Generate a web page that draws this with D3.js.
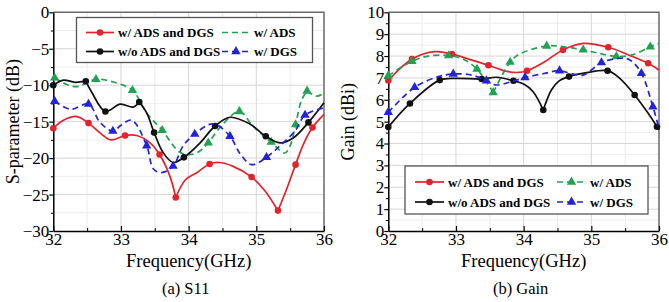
<!DOCTYPE html>
<html>
<head>
<meta charset="utf-8">
<script src="https://cdn.jsdelivr.net/npm/d3@7"></script>
<style>
html,body{margin:0;padding:0;background:#fff;}
svg{display:block;}
text{font-family:"Liberation Serif","Times New Roman",serif;}
</style>
</head>
<body>
<svg id="c" width="669" height="302"></svg>
<script>
// ---------- data ----------
const freqDomain = [32, 36];
const freqTicks = [32, 33, 34, 35, 36];
const s11Ticks = [0, -5, -10, -15, -20, -25, -30];
const gainTicks = [0,1,2,3,4,5,6,7,8,9,10];
const seriesNames = ["w/ ADS and DGS", "w/ ADS", "w/o ADS and DGS", "w/ DGS"];

// S11 (dB)
const s11RedF = [32.0,32.15,32.35,32.52,32.7,32.85,33.06,33.23,33.43,33.57,33.72,33.81,33.95,34.12,34.31,34.45,34.65,34.93,35.12,35.32,35.45,35.58,35.7,35.83,36.0];
const s11RedV = [-15.9,-14.8,-14.3,-15.2,-16.6,-17.5,-16.9,-16.9,-17.9,-19.5,-22.4,-25.4,-23.0,-22.0,-20.8,-20.6,-21.1,-22.6,-24.4,-27.2,-24.2,-20.9,-18.0,-15.8,-14.0];
const s11RedM = [32.0,32.52,33.06,33.57,33.81,34.31,34.93,35.32,35.58,35.83];
const s11RedCusp = [33.81,35.32];

const s11BlackF = [32.0,32.15,32.32,32.48,32.57,32.77,32.99,33.18,33.27,33.38,33.49,33.62,33.77,33.93,34.17,34.39,34.61,34.9,35.14,35.35,35.55,35.77,36.0];
const s11BlackV = [-10.0,-9.3,-9.6,-9.45,-11.0,-13.6,-12.6,-13.0,-12.3,-13.8,-16.5,-19.2,-20.6,-19.9,-17.9,-15.6,-14.4,-15.3,-17.0,-17.9,-17.2,-15.1,-12.4];
const s11BlackM = [32.0,32.48,32.77,33.27,33.49,33.93,34.39,35.14,35.77];
const s11BlackCusp = [32.48,33.27];

const s11GreenF = [32.02,32.2,32.35,32.63,32.9,33.17,33.38,33.61,33.87,34.04,34.17,34.29,34.5,34.75,34.95,35.22,35.42,35.5,35.58,35.67,35.75,35.89,36.0];
const s11GreenV = [-9.0,-9.9,-10.2,-9.2,-9.6,-10.7,-13.8,-16.2,-19.2,-19.5,-19.0,-17.9,-15.4,-13.6,-15.6,-17.8,-19.3,-18.3,-15.4,-12.0,-10.8,-11.5,-11.1];
const s11GreenM = [32.02,32.63,33.17,33.61,34.29,34.75,35.22,35.58,35.75];
const s11GreenCusp = [35.75];

const s11BlueF = [32.02,32.25,32.52,32.69,32.88,33.0,33.16,33.38,33.48,33.6,33.77,33.92,34.09,34.36,34.61,34.76,34.93,35.15,35.35,35.57,35.72,36.0];
const s11BlueV = [-12.2,-13.3,-12.6,-15.1,-16.3,-15.5,-14.8,-18.3,-21.5,-22.0,-21.1,-18.3,-16.7,-15.3,-17.0,-19.4,-20.9,-19.9,-18.3,-16.3,-14.1,-13.1];
const s11BlueM = [32.02,32.52,32.88,33.38,33.77,34.09,34.61,35.15,35.72];
const s11BlueCusp = [];

// Gain (dBi)
const gainRedF = [32.0,32.35,32.69,32.94,33.2,33.48,33.75,33.92,34.05,34.3,34.58,34.88,35.25,35.55,35.84,36.0];
const gainRedV = [6.88,7.86,8.2,8.09,7.85,7.58,7.3,7.25,7.33,7.72,8.28,8.58,8.4,8.05,7.67,7.36];
const gainRedM = [32.0,32.35,32.94,33.48,34.05,34.58,35.25,35.84];
const gainRedCusp = [];

const gainBlackF = [32.0,32.32,32.76,33.01,33.38,33.6,33.85,34.0,34.14,34.29,34.41,34.52,34.67,34.93,35.24,35.42,35.64,35.84,35.97,36.0];
const gainBlackV = [4.75,5.83,6.9,6.98,6.95,7.03,6.87,6.72,6.37,5.53,6.45,6.85,7.06,7.24,7.33,6.98,6.22,5.38,4.77,4.62];
const gainBlackM = [32.0,32.32,32.76,33.38,33.85,34.29,34.67,35.24,35.64,35.97];
const gainBlackCusp = [34.29];

const gainGreenF = [32.0,32.35,32.59,32.89,33.11,33.31,33.55,33.8,33.94,34.34,34.6,34.88,35.15,35.37,35.6,35.87,36.0];
const gainGreenV = [7.1,7.76,8.0,8.02,7.85,7.4,6.33,7.72,8.09,8.46,8.42,8.28,8.1,7.98,8.05,8.42,8.58];
const gainGreenM = [32.0,32.35,32.89,33.31,33.55,33.8,34.34,34.88,35.37,35.87];
const gainGreenCusp = [33.55];

const gainBlueF = [32.0,32.39,32.74,32.96,33.23,33.45,33.58,33.82,34.02,34.3,34.53,34.7,34.88,35.15,35.42,35.57,35.74,35.91,36.0];
const gainBlueV = [5.43,6.57,7.06,7.18,7.13,6.87,6.68,6.83,7.02,7.2,7.33,7.2,7.13,7.7,7.9,7.82,7.21,5.68,4.7];
const gainBlueM = [32.0,32.39,32.96,33.45,34.02,34.53,35.15,35.74,35.91];
const gainBlueCusp = [];

// ---------- styles ----------
const COL = {red:"#e3222b", green:"#21a253", black:"#111111", blue:"#2222d8"};
const svg = d3.select("#c");

function makeSeries(F, V, M, C, color, dashed, marker) {
  return {pts: F.map((f,i)=>[f,V[i]]), M, C, color, dashed, marker};
}

function drawPanel(cfg) {
  const {x0,x1,y0,y1,yDomain,yTicks,yMinorStep,series,yTitle,caption,legend} = cfg;
  const x = d3.scaleLinear().domain(freqDomain).range([x0,x1]);
  const y = d3.scaleLinear().domain(yDomain).range([y1,y0]);
  const g = svg.append("g");

  // minor grid
  const xMinor = d3.range(freqDomain[0]+0.5, freqDomain[1], 1);
  const yMinor = d3.range(yDomain[0]+yMinorStep, yDomain[1], yMinorStep*2);
  g.selectAll(".gxm").data(xMinor).join("line")
    .attr("x1",d=>x(d)).attr("x2",d=>x(d)).attr("y1",y0).attr("y2",y1)
    .attr("stroke","#ededed").attr("stroke-width",1);
  g.selectAll(".gym").data(yMinor).join("line")
    .attr("y1",d=>y(d)).attr("y2",d=>y(d)).attr("x1",x0).attr("x2",x1)
    .attr("stroke","#ededed").attr("stroke-width",1);
  // major grid
  g.selectAll(".gx").data(freqTicks.slice(1,-1)).join("line")
    .attr("x1",d=>x(d)).attr("x2",d=>x(d)).attr("y1",y0).attr("y2",y1)
    .attr("stroke","#d6d6d6").attr("stroke-width",1);
  g.selectAll(".gy").data(yTicks.filter(t=>t!==yDomain[0]&&t!==yDomain[1])).join("line")
    .attr("y1",d=>y(d)).attr("y2",d=>y(d)).attr("x1",x0).attr("x2",x1)
    .attr("stroke","#d6d6d6").attr("stroke-width",1);

  // frame top/right
  g.append("path").attr("d",`M${x0},${y0}H${x1}V${y1}`).attr("fill","none")
    .attr("stroke","#6a6a6a").attr("stroke-width",1.5);

  // axes
  const fmt = d => (d<0 ? "\u2212"+Math.abs(d) : String(d));
  const xAxis = d3.axisBottom(x).tickValues(freqTicks).tickSizeInner(-5).tickSizeOuter(0).tickPadding(2).tickFormat(fmt);
  const xa = g.append("g").attr("transform",`translate(0,${y1})`).call(xAxis);
  const yAxis = d3.axisLeft(y).tickValues(yTicks).tickSizeInner(4).tickSizeOuter(0).tickPadding(0).tickFormat(fmt);
  const ya = g.append("g").attr("transform",`translate(${x0},0)`).call(yAxis);
  [xa,ya].forEach(a=>{
    a.select(".domain").attr("stroke","#000").attr("stroke-width",1.5);
    a.selectAll(".tick line").attr("stroke","#000").attr("stroke-width",1.2);
    a.selectAll(".tick text").attr("font-family","Liberation Serif").attr("font-size",17).attr("fill","#000");
  });
  // minor ticks
  const xmt = d3.axisBottom(x).tickValues(xMinor).tickSizeInner(-3).tickSizeOuter(0).tickFormat("");
  g.append("g").attr("transform",`translate(0,${y1})`).call(xmt)
    .call(a=>{a.select(".domain").remove(); a.selectAll("line").attr("stroke","#000");});
  const ymt = d3.axisLeft(y).tickValues(yMinor).tickSizeInner(2.5).tickSizeOuter(0).tickFormat("");
  g.append("g").attr("transform",`translate(${x0},0)`).call(ymt)
    .call(a=>{a.select(".domain").remove(); a.selectAll("line").attr("stroke","#000");});

  // titles
  g.append("text").attr("x",(x0+x1)/2).attr("y",267).attr("text-anchor","middle")
    .attr("font-size",18.5).text("Frequency(GHz)");
  g.append("text").attr("transform",`translate(${x0-34},${(y0+y1)/2}) rotate(-90)`)
    .attr("text-anchor","middle").attr("font-size",18).text(yTitle);
  g.append("text").attr("x",(x0+x1)/2-3).attr("y",293.5).attr("text-anchor","middle")
    .attr("font-size",16.5).text(caption);

  // series
  const line = d3.line().x(d=>x(d[0])).y(d=>y(d[1])).curve(d3.curveCatmullRom.alpha(0.5));
  const tri = d3.symbol().type(d3.symbolTriangle).size(38);
  series.forEach(s=>{
    const segs = []; let cur = [];
    s.pts.forEach(p=>{
      cur.push(p);
      if (s.C.includes(p[0])) { segs.push(cur); cur=[p]; }
    });
    if (cur.length>1) segs.push(cur);
    segs.forEach(seg=>{
      g.append("path").attr("d",line(seg)).attr("fill","none")
        .attr("stroke",s.color).attr("stroke-width",1.7)
        .attr("stroke-dasharray",s.dashed?"6,4":null)
        .attr("stroke-linejoin","round");
    });
    const mk = s.pts.filter(p=>s.M.includes(p[0]));
    if (s.marker==="circle") {
      g.selectAll(null).data(mk).join("circle")
        .attr("cx",d=>x(d[0])).attr("cy",d=>y(d[1])).attr("r",3.3).attr("fill",s.color);
    } else {
      g.selectAll(null).data(mk).join("path").attr("d",tri)
        .attr("transform",d=>`translate(${x(d[0])},${y(d[1])})`).attr("fill",s.color);
    }
  });

  // legend
  const L = legend;
  g.append("rect").attr("x",L.x).attr("y",L.y).attr("width",L.w).attr("height",L.h)
    .attr("fill","#fff").attr("stroke","#555").attr("stroke-width",1.3);
  L.items.forEach(it=>{
    const s = series[it.si];
    g.append("line").attr("x1",it.lx).attr("x2",it.lx+L.ll).attr("y1",it.ly).attr("y2",it.ly)
      .attr("stroke",s.color).attr("stroke-width",1.7)
      .attr("stroke-dasharray",s.dashed?"6,4":null);
    if (it.showMarker) {
      if (s.marker==="circle") {
        g.append("circle").attr("cx",it.lx+L.ll/2).attr("cy",it.ly).attr("r",3.3).attr("fill",s.color);
      } else {
        g.append("path").attr("d",tri).attr("transform",`translate(${it.lx+L.ll/2},${it.ly})`).attr("fill",s.color);
      }
    }
    g.append("text").attr("x",it.lx+L.ll+4).attr("y",it.ly+4.5)
      .attr("font-size",13).attr("font-weight","bold").text(seriesNames[it.si]);
  });
}

// Panel (a)
drawPanel({
  x0:53.3, x1:324, y0:12.3, y1:231, yDomain:[-30,0], yTicks:s11Ticks, yMinorStep:2.5,
  yTitle:"S-parameter (dB)", caption:"(a) S11",
  series:[
    makeSeries(s11RedF,s11RedV,s11RedM,s11RedCusp,COL.red,false,"circle"),
    makeSeries(s11GreenF,s11GreenV,s11GreenM,s11GreenCusp,COL.green,true,"triangle"),
    makeSeries(s11BlackF,s11BlackV,s11BlackM,s11BlackCusp,COL.black,false,"circle"),
    makeSeries(s11BlueF,s11BlueV,s11BlueM,s11BlueCusp,COL.blue,true,"triangle")
  ],
  legend:{x:76.5,y:17.5,w:236,h:45,ll:28,items:[
    {si:0,lx:86,ly:32.5,showMarker:true},
    {si:1,lx:222,ly:32.5,showMarker:false},
    {si:2,lx:86,ly:51.5,showMarker:true},
    {si:3,lx:222,ly:51.5,showMarker:true}
  ]}
});

// Panel (b)
drawPanel({
  x0:388.3, x1:659, y0:12.3, y1:231, yDomain:[0,10], yTicks:gainTicks, yMinorStep:0.5,
  yTitle:"Gain (dBi)", caption:"(b) Gain",
  series:[
    makeSeries(gainRedF,gainRedV,gainRedM,gainRedCusp,COL.red,false,"circle"),
    makeSeries(gainGreenF,gainGreenV,gainGreenM,gainGreenCusp,COL.green,true,"triangle"),
    makeSeries(gainBlackF,gainBlackV,gainBlackM,gainBlackCusp,COL.black,false,"circle"),
    makeSeries(gainBlueF,gainBlueV,gainBlueM,gainBlueCusp,COL.blue,true,"triangle")
  ],
  legend:{x:405,y:166,w:243,h:48,ll:29,items:[
    {si:0,lx:415,ly:182,showMarker:true},
    {si:1,lx:557,ly:182,showMarker:true},
    {si:2,lx:415,ly:202,showMarker:true},
    {si:3,lx:557,ly:202,showMarker:true}
  ]}
});
</script>
</body>
</html>
